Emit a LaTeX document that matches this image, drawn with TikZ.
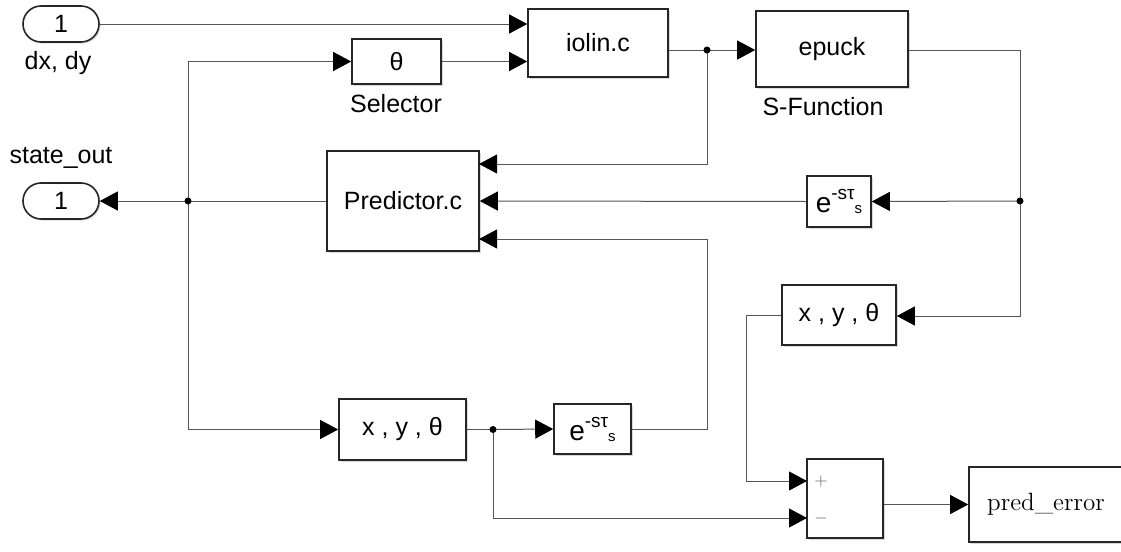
\documentclass[tikz,border=0pt]{standalone}
\usepackage{fontspec}
\setsansfont{Liberation Sans}
\usetikzlibrary{arrows.meta,shadows}

\definecolor{Wire}{HTML}{555555}
\definecolor{Edge}{HTML}{262626}
\definecolor{Sign}{HTML}{707070}

\newcommand{\delayexp}{e\raisebox{6.5pt}{\fontsize{9.5}{9.5}\selectfont -sτ}\raisebox{-0.5pt}{\fontsize{7.5}{7.5}\selectfont s}}

\tikzset{
  block/.style={draw=Edge, line width=0.8pt, fill=white, inner sep=0pt,
    drop shadow={shadow xshift=1pt, shadow yshift=-1pt, opacity=0.3},
    font=\sffamily\fontsize{12.5}{14}\selectfont},
  port/.style={draw=Edge, line width=0.8pt, fill=white, rounded corners=9pt,
    minimum width=38pt, minimum height=18pt, inner sep=0pt,
    drop shadow={shadow xshift=0.8pt, shadow yshift=-0.8pt, opacity=0.25},
    font=\sffamily\fontsize{12.5}{14}\selectfont},
  lbl/.style={font=\sffamily\fontsize{12.5}{14}\selectfont, inner sep=0pt},
  wire/.style={draw=Wire, line width=0.5pt},
  sig/.style={wire, -{Triangle[length=9pt,width=9.5pt,color=black]}},
  jdot/.style={circle, fill=black, inner sep=0pt, minimum size=3.5pt}
}

\begin{document}
\begin{tikzpicture}[x=0.5pt, y=-0.5pt]

 \useasboundingbox (0,0) rectangle (1121,552);

 %%%%%%%%%% Ports %%%%%%%%%%
 \node[port] (in1) at (61,24) {1};
 \node[lbl] (in1lbl) at (58,63) {dx, dy};
 \node[port] (out1) at (61,201) {1};
 \node[lbl] (out1lbl) at (61,158) {state\_out};

 %%%%%%%%%% Blocks %%%%%%%%%%
 \node[block, minimum width=44.5pt, minimum height=22.5pt] (sel) at (396.5,61.5) {θ};
 \node[lbl] (sellbl) at (396,104) {Selector};
 \node[block, minimum width=70pt, minimum height=34pt] (iolin) at (598,43) {iolin.c};
 \node[block, minimum width=76pt, minimum height=38pt] (epuck) at (832,49) {epuck};
 \node[lbl] (epucklbl) at (823,107) {S-Function};
 \node[block, minimum width=76pt, minimum height=50pt] (pred) at (403,201) {Predictor.c};
 \node[block, minimum width=32pt, minimum height=25.5pt, font=\sffamily\fontsize{14}{14}\selectfont] (delayR) at (839,201.5) {\delayexp};
 \node[block, minimum width=57pt, minimum height=30pt] (xyt1) at (839,315) {x , y , θ};
 \node[block, minimum width=63.5pt, minimum height=30.5pt] (xyt2) at (402.5,429.5) {x , y , θ};
 \node[block, minimum width=38.5pt, minimum height=25pt, font=\sffamily\fontsize{14}{14}\selectfont] (delayB) at (592.5,429) {\delayexp};
 \node[block, minimum width=38pt, minimum height=39.5pt] (sum) at (845,498.5) {};
 \node[block, minimum width=77pt, minimum height=37.5pt, font=\rmfamily\fontsize{12.5}{14}\selectfont] (perr) at (1046,504.5) {pred\_error};
 \node[font=\rmfamily\fontsize{8}{8}\selectfont, text=Sign] (plus) at (821,481) {+};
 \node[font=\rmfamily\fontsize{8}{8}\selectfont, text=Sign] (minus) at (821,518) {$-$};

 %%%%%%%%%% Branch points %%%%%%%%%%
 \coordinate (j1) at (707,50);
 \coordinate (j2) at (188,201);
 \coordinate (j3) at (1020,201);
 \coordinate (j4) at (493,429.5);

 %%%%%%%%%% Bends and input ports %%%%%%%%%%
 \coordinate (pin1) at (479,164);
 \coordinate (pin3) at (479,239);
 \coordinate (b1) at (707,239);
 \coordinate (b2) at (1020,316);
 \coordinate (b3) at (746,481);
 \coordinate (b4) at (493,518);
 \coordinate (sin1) at (807,481);
 \coordinate (sin2) at (807,518);

 %%%%%%%%%% Wires %%%%%%%%%%
 \draw[sig] (in1.east) -- (in1.east -| iolin.west);
 \draw[sig] (j2) |- (sel.west);
 \draw[sig] (sel.east) -- (sel.east -| iolin.west);
 \draw[wire] (iolin.east |- j1) -- (j1);
 \draw[sig] (j1) -- (epuck.west |- j1);
 \draw[sig] (j1) |- (pin1);
 \draw[wire] (epuck.east |- j1) -| (j3);
 \draw[sig] (j3) -- (b2) -- (xyt1.east |- b2);
 \draw[sig] (j3) -- (delayR.east);
 \draw[sig] (delayR.west) -- (pred.east);
 \draw[sig] (pred.west) -- (out1.east);
 \draw[sig] (j2) |- (xyt2.west);
 \draw[wire] (xyt2.east) -- (j4);
 \draw[sig] (j4) -- (delayB.west);
 \draw[sig] (delayB.east) -| (b1) -- (pin3);
 \draw[sig] (xyt1.west) -| (b3) -- (sin1);
 \draw[sig] (j4) -- (b4) -- (sin2);
 \draw[sig] (sum.east |- perr.west) -- (perr.west);

 %%%%%%%%%% Junction dots %%%%%%%%%%
 \node[jdot] at (j1) {};
 \node[jdot] at (j2) {};
 \node[jdot] at (j3) {};
 \node[jdot] at (j4) {};

\end{tikzpicture}
\end{document}
